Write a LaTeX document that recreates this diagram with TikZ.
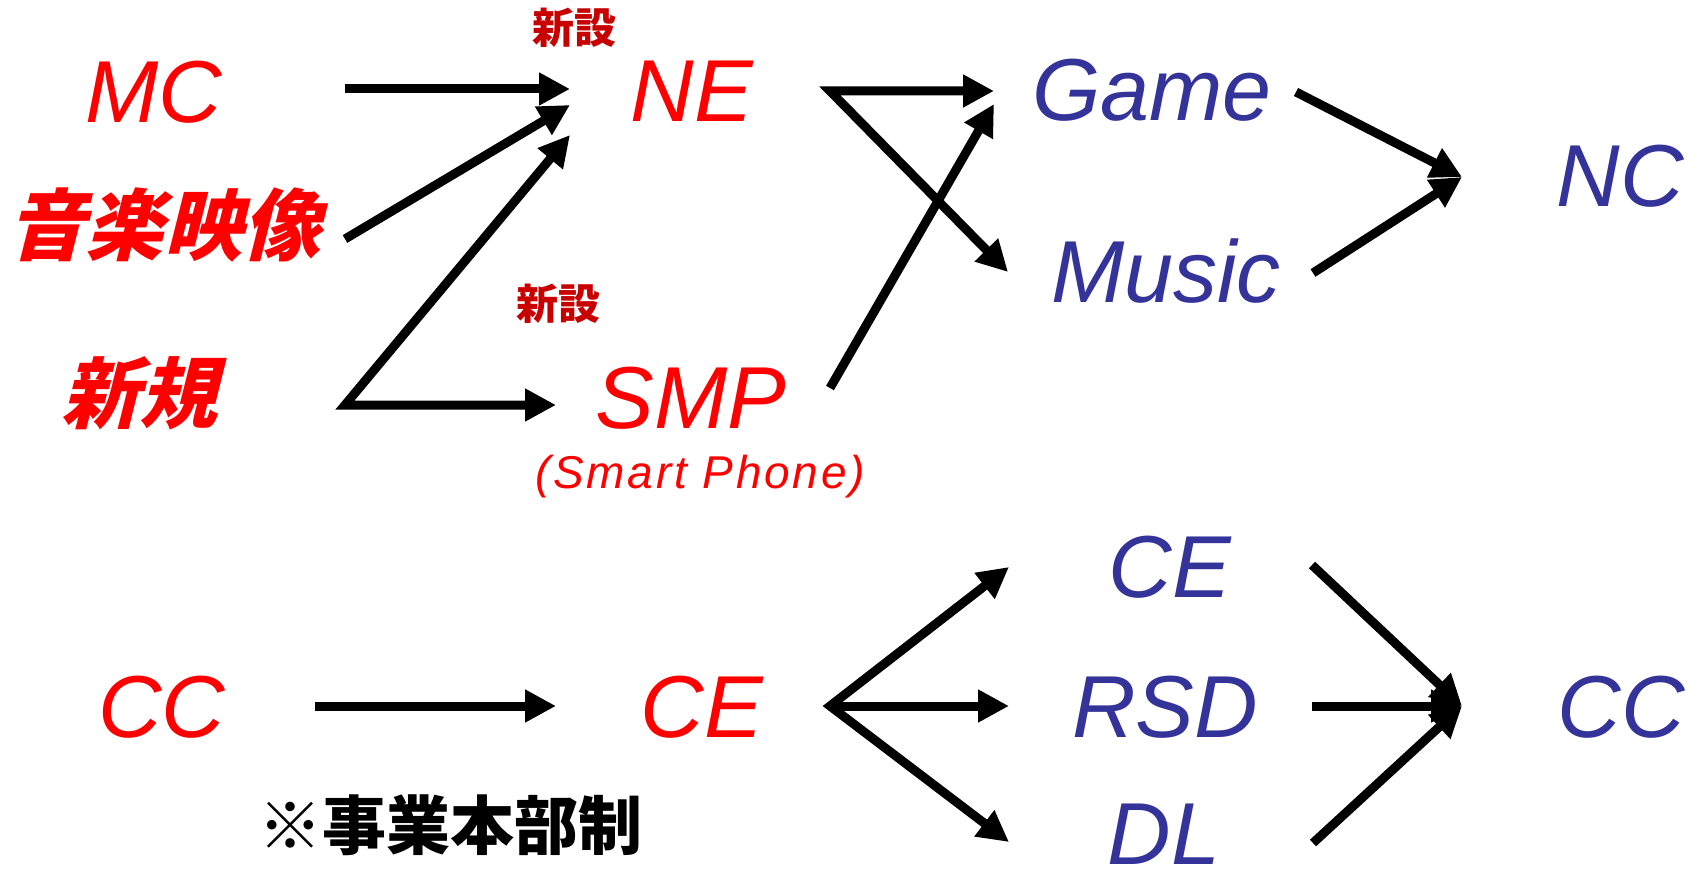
\documentclass[tikz,border=0pt]{standalone}
\usepackage{fontspec}
\setmainfont{Liberation Sans}
\newfontfamily\cjk{Noto Sans CJK JP}[BoldFont={Noto Sans CJK JP Black}]
\newfontfamily\cjksl{Noto Sans CJK JP}[FakeSlant=0.25,BoldFont={Noto Sans CJK JP Black}]
\usetikzlibrary{arrows.meta}
\definecolor{nred}{RGB}{255,0,0}
\definecolor{nblue}{RGB}{51,51,153}
\definecolor{dred}{RGB}{200,0,0}
\begin{document}
\begin{tikzpicture}[x=1pt,y=-1pt,
  lbl/.style={anchor=base,inner sep=0pt,font=\fontsize{88}{96}\selectfont\itshape},
  redlbl/.style={lbl,text=nred},
  bluelbl/.style={lbl,text=nblue},
  bigcjk/.style={anchor=base,inner sep=0pt,text=nred,font=\fontsize{78}{86}\selectfont\cjksl\bfseries},
  newlbl/.style={anchor=base,inner sep=0pt,text=dred,font=\fontsize{42}{46}\selectfont\cjk\bfseries},
  arr/.style={line width=9pt,line join=miter,-{Triangle[length=31pt,width=31pt]}},
  arr2/.style={line width=9pt,line join=miter,{Triangle[length=31pt,width=31pt]}-{Triangle[length=31pt,width=31pt]}}
]
\useasboundingbox (0,0) rectangle (1702,874);

% top group
\node[redlbl] (mc) at (154,123) {MC};
\node[bigcjk] (ongaku) at (164,255) {音楽映像};
\node[bigcjk] (shinki) at (139,422) {新規};
\node[newlbl] (new1) at (574,44) {新設};
\node[redlbl] (ne) at (692,122) {NE};
\node[newlbl] (new2) at (558,320) {新設};
\node[redlbl] (smp) at (691,428) {SMP};
\node[anchor=base,inner sep=0pt,text=nred,font=\fontsize{46}{50}\selectfont\itshape\addfontfeature{LetterSpace=6}] (sp) at (700,488) {(Smart Phone)};
\node[bluelbl] (game) at (1152,121) {Game};
\node[bluelbl] (music) at (1166,303) {Music};
\node[bluelbl] (nc) at (1620,207) {NC};

% bottom group
\node[redlbl] (cc1) at (162,737) {CC};
\node[redlbl] (ce1) at (702,737) {CE};
\node[bluelbl] (ce2) at (1170,597) {CE};
\node[bluelbl] (rsd) at (1165,737) {RSD};
\node[bluelbl] (dl) at (1164,864) {DL};
\node[bluelbl] (cc2) at (1621,737) {CC};
\node[anchor=base,inner sep=0pt,text=black,font=\fontsize{64}{70}\selectfont\cjk\bfseries] (note) at (450,849) {※事業本部制};

% connector end points
\coordinate (mcO) at (345,89);
\coordinate (ongakuO) at (345,239);
\coordinate (shinkiO) at (345,405);
\coordinate (neI1) at (570,89);
\coordinate (neI2) at (570,105);
\coordinate (neI3) at (570,135);
\coordinate (smpI) at (556,405);
\coordinate (neO) at (830,91);
\coordinate (smpO) at (830,388);
\coordinate (gameI1) at (994,91);
\coordinate (gameI2) at (994,104);
\coordinate (musicI) at (1008,272);
\coordinate (gameO) at (1296,92);
\coordinate (musicO) at (1313,273);
\coordinate (ncI) at (1462,177);

\coordinate (cc1O) at (315,706);
\coordinate (ce1I) at (556,706);
\coordinate (ce1O) at (830,706);
\coordinate (ce2I) at (1009,567);
\coordinate (rsdI) at (1009,706);
\coordinate (dlI) at (1009,842);
\coordinate (ce2O) at (1312,565);
\coordinate (rsdO) at (1312,706);
\coordinate (dlO) at (1313,843);
\coordinate (cc2I) at (1462,706);

% connectors top
\draw[arr] (mcO) -- (neI1);
\draw[arr] (ongakuO) -- (neI2);
\draw[arr2] (neI3) -- (shinkiO) -- (smpI);
\draw[arr2] (gameI1) -- (neO) -- (musicI);
\draw[arr] (smpO) -- (gameI2);
\draw[arr] (gameO) -- (ncI);
\draw[arr] (musicO) -- (ncI);

% connectors bottom
\draw[arr] (cc1O) -- (ce1I);
\draw[arr2] (ce2I) -- (ce1O) -- (dlI);
\draw[arr] (ce1O) -- (rsdI);
\draw[arr] (ce2O) -- (cc2I);
\draw[arr] (rsdO) -- (cc2I);
\draw[arr] (dlO) -- (cc2I);
\end{tikzpicture}
\end{document}
